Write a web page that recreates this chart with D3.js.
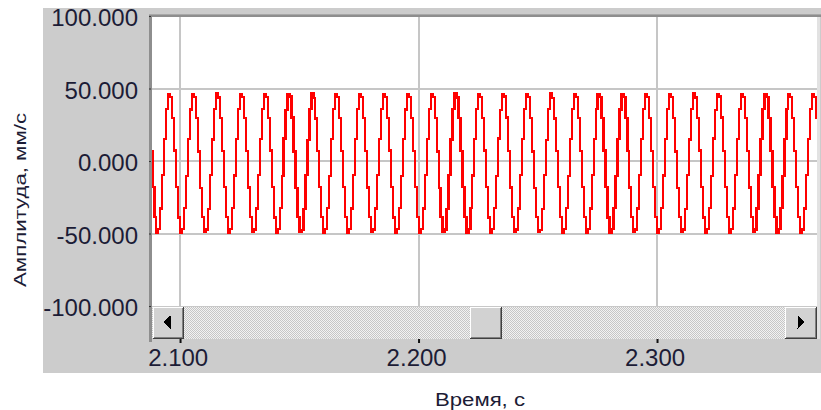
<!DOCTYPE html>
<html>
<head>
<meta charset="utf-8">
<script src="https://cdn.jsdelivr.net/npm/d3@7"></script>
<style>
  html, body { margin: 0; padding: 0; background: #ffffff; }
  svg { display: block; }
  text { font-family: "Liberation Sans", Arial, sans-serif; fill: #1c1c36; }
</style>
</head>
<body>
<svg id="chart" width="821" height="410"></svg>
<script>
// Vibration velocity record: uniformly sampled amplitude, mm/s
const sampleStart = 2.0880;   // s, time of the first sample
const sampleRate = 1200;      // samples per second
const velocity = [
  6.9, -18.1, -38.7, -49.3, -47.1, -32.7, -9.9, 15.1, 35.7, 46.3, 44.1, 29.7,
  7.2, -17.8, -38.9, -49.5, -46.8, -32.4, -10.2, 15.4, 35.5, 46.1, 44.4, 29.9,
  6.6, -18.4, -38.5, -49.1, -47.3, -32.9, -9.6, 14.8, 35.9, 46.5, 43.8, 29.4,
  7.0, -18.0, -38.8, -49.4, -47.0, -32.6, -10.0, 15.2, 35.6, 46.2, 44.2, 29.8,
  6.8, -18.3, -38.6, -49.2, -47.2, -32.8, -9.8, 15.0, 35.8, 46.4, 44.0, 29.6,
  7.3, -17.7, -39.0, -49.6, -46.7, -32.3, -10.3, 15.5, 35.4, 46.0, 44.5, 30.0,
  6.5, -18.5, -38.4, -49.0, -47.4, -33.0, -9.5, 14.7, 36.0, 46.6, 43.7, 29.3,
  7.1, -17.9, -38.8, -49.4, -46.9, -32.5, -10.1, 15.3, 35.6, 46.2, 44.3, 29.8,
  6.9, -18.2, -38.7, -49.3, -47.1, -32.7, -9.9, 15.1, 35.7, 46.3, 44.1, 29.7,
  6.7, -18.3, -38.5, -49.2, -47.3, -32.8, -9.7, 14.9, 35.9, 46.4, 43.9, 29.5,
  7.2, -17.8, -38.9, -49.5, -46.8, -32.4, -10.2, 15.4, 35.5, 46.1, 44.4, 29.9,
  6.9, -18.1, -38.7, -49.3, -47.1, -32.7, -9.9, 15.1, 35.7, 46.3, 44.1, 29.7,
  6.6, -18.4, -38.5, -49.1, -47.3, -32.9, -9.6, 14.8, 35.9, 46.5, 43.8, 29.4,
  7.0, -18.0, -38.8, -49.4, -47.0, -32.6, -10.0, 15.2, 35.6, 46.2, 44.2, 29.8,
  7.3, -17.7, -39.0, -49.6, -46.7, -32.3, -10.3, 15.5, 35.4, 46.0, 44.5, 30.0,
  6.8, -18.3, -38.6, -49.2, -47.2, -32.8, -9.8, 15.0, 35.8, 46.4, 44.0, 29.6,
  6.5, -18.5, -38.4, -49.0, -47.4, -33.0, -9.5, 14.7, 36.0, 46.6, 43.7, 29.3,
  7.1, -17.9, -38.8, -49.4, -46.9, -32.5, -10.1, 15.3, 35.6, 46.2, 44.3, 29.8,
  6.9, -18.1, -38.7, -49.3, -47.1, -32.7, -9.9, 15.1, 35.7, 46.3, 44.1, 29.7,
  7.2, -17.8, -38.9, -49.5, -46.8, -32.4, -10.2, 15.4, 35.5, 46.1, 44.4, 29.9,
  6.7, -18.3, -38.5, -49.2, -47.3, -32.8, -9.7, 14.9, 35.9, 46.4, 43.9, 29.5,
  7.0, -18.0, -38.8, -49.4, -47.0, -32.6, -10.0, 15.2, 35.6, 46.2, 44.2, 29.8,
  6.6, -18.4, -38.5, -49.1, -47.3, -32.9, -9.6, 14.8, 35.9, 46.5, 43.8, 29.4,
  7.3, -17.7, -39.0, -49.6, -46.7, -32.3, -10.3, 15.5, 35.4, 46.0, 44.5, 30.0,
  6.9, -18.1, -38.7, -49.3, -47.1, -32.7, -9.9, 15.1, 35.7, 46.3, 44.1, 29.7,
  6.8, -18.3, -38.6, -49.2, -47.2, -32.8, -9.8, 15.0, 35.8, 46.4, 44.0, 29.6,
  7.1, -17.9, -38.8, -49.4, -46.9, -32.5, -10.1, 15.3, 35.6, 46.2, 44.3, 29.8,
  6.8, -18.2, -38.6, -49.3, -47.2, -32.7, -9.8, 15.0, 35.8, 46.3, 44.0, 29.6,
  6.9
];

// Axis ranges and ticks
const timeRange = [2.0874, 2.3675];
const timeTicks = [2.1, 2.2, 2.3];
const ampRange = [-100, 100];
const ampTicks = [-100, -50, 0, 50, 100];
const ampGrid = [-50, 0, 50];

const yTitle = "Амплитуда, мм/с";
const xTitle = "Время, с";

const svg = d3.select("#chart");

// Layout of the scope window
const panel = { x: 43, y: 8, w: 778, h: 365 };
const plot = { left: 150, right: 818, top: 16, bottom: 306 };
const inner = { left: 152, right: 817, top: 17, bottom: 306 };
const bar = { top: 306, bottom: 339 };

const x = d3.scaleLinear().domain(timeRange).range([plot.left, plot.right]);
const y = d3.scaleLinear().domain(ampRange).range([plot.bottom, plot.top]);

// Grey window background
svg.append("rect")
  .attr("x", panel.x).attr("y", panel.y)
  .attr("width", panel.w).attr("height", panel.h)
  .attr("fill", "#cccccc");

// White plotting field
svg.append("rect")
  .attr("x", inner.left).attr("y", inner.top)
  .attr("width", inner.right - inner.left).attr("height", inner.bottom - inner.top)
  .attr("fill", "#ffffff");

// Grid lines
svg.append("g").selectAll("line").data(ampGrid).join("line")
  .attr("x1", inner.left).attr("x2", inner.right)
  .attr("y1", d => Math.round(y(d))).attr("y2", d => Math.round(y(d)))
  .attr("stroke", "#c6c6c6").attr("stroke-width", 2)
  .attr("shape-rendering", "crispEdges");
svg.append("g").selectAll("line").data(timeTicks).join("line")
  .attr("x1", d => Math.round(x(d))).attr("x2", d => Math.round(x(d)))
  .attr("y1", inner.top).attr("y2", inner.bottom)
  .attr("stroke", "#c6c6c6").attr("stroke-width", 2)
  .attr("shape-rendering", "crispEdges");

// Signal trace, drawn as held samples
svg.append("clipPath").attr("id", "field")
  .append("rect")
  .attr("x", inner.left).attr("y", inner.top)
  .attr("width", inner.right - inner.left).attr("height", inner.bottom - inner.top);

const samples = velocity.map((v, i) => ({ t: sampleStart + i / sampleRate, v }));
const line = d3.line().curve(d3.curveStep).x(d => x(d.t)).y(d => y(d.v));
svg.append("path")
  .datum(samples)
  .attr("clip-path", "url(#field)")
  .attr("d", line)
  .attr("fill", "none")
  .attr("stroke", "#ff0000")
  .attr("stroke-width", 2.2)
  .attr("stroke-linejoin", "miter")
  .attr("shape-rendering", "crispEdges");

// Sunken frame: dark top/left, light right
svg.append("rect").attr("x", 149).attr("y", 14).attr("width", 672).attr("height", 3).attr("fill", "#8e8e8e");
svg.append("rect").attr("x", 149).attr("y", 14).attr("width", 3).attr("height", 328).attr("fill", "#8e8e8e");
svg.append("rect").attr("x", 149).attr("y", 14).attr("width", 672).attr("height", 1).attr("fill", "#a8a8a8");
svg.append("rect").attr("x", 817).attr("y", 17).attr("width", 3).attr("height", 322).attr("fill", "#e2e2e2");

// Scroll bar track with a dithered fill
const pat = svg.append("defs").append("pattern")
  .attr("id", "dither").attr("width", 2).attr("height", 2)
  .attr("patternUnits", "userSpaceOnUse");
pat.append("rect").attr("width", 2).attr("height", 2).attr("fill", "#f2f2f2");
pat.append("rect").attr("x", 0).attr("y", 0).attr("width", 1).attr("height", 1).attr("fill", "#c6c6c6");
pat.append("rect").attr("x", 1).attr("y", 1).attr("width", 1).attr("height", 1).attr("fill", "#c6c6c6");

svg.append("rect")
  .attr("x", inner.left).attr("y", bar.top)
  .attr("width", inner.right - inner.left).attr("height", bar.bottom - bar.top)
  .attr("fill", "url(#dither)");
svg.append("rect")
  .attr("x", inner.left).attr("y", bar.top)
  .attr("width", inner.right - inner.left).attr("height", 1)
  .attr("fill", "#c8c8c8");

// Raised buttons of the scroll bar
function raisedBox(bx, by, bw, bh) {
  const g = svg.append("g").attr("shape-rendering", "crispEdges");
  g.append("rect").attr("x", bx).attr("y", by).attr("width", bw).attr("height", bh).attr("fill", "#404040");
  g.append("rect").attr("x", bx).attr("y", by).attr("width", bw - 1).attr("height", bh - 1).attr("fill", "#ffffff");
  g.append("rect").attr("x", bx + 1).attr("y", by + 1).attr("width", bw - 2).attr("height", bh - 2).attr("fill", "#808080");
  g.append("rect").attr("x", bx + 1).attr("y", by + 1).attr("width", bw - 3).attr("height", bh - 3).attr("fill", "#d2d2d2");
  return g;
}
const leftBtn = raisedBox(153, 307, 31, 32);
leftBtn.append("path").attr("d", "M163,322 L170.5,315.5 L170.5,328.5 Z").attr("fill", "#000000");
raisedBox(470, 307, 32, 32);
const rightBtn = raisedBox(785, 307, 32, 32);
rightBtn.append("path").attr("d", "M805,322 L797.5,315.5 L797.5,328.5 Z").attr("fill", "#000000");

// Axes: tick labels only, the frame carries the axis lines
const locale = d3.formatLocale({ decimal: ".", thousands: ",", grouping: [3], currency: ["", ""], minus: "-" });
const fmt = locale.format(".3f");
const yAxis = d3.axisLeft(y).tickValues(ampTicks).tickFormat(fmt).tickSize(2).tickPadding(10);
const gy = svg.append("g").attr("transform", `translate(${plot.left},0)`).call(yAxis);
gy.select(".domain").remove();
gy.selectAll(".tick line").attr("stroke", "#333").attr("transform", "translate(1,0)");
gy.selectAll(".tick text")
  .attr("font-size", 24).attr("dy", "0.4em")
  .style("font-family", "'Liberation Sans', Arial, sans-serif").attr("fill", "#1c1c36");

const xAxis = d3.axisBottom(x).tickValues(timeTicks).tickFormat(fmt).tickSize(4).tickPadding(6);
const gx = svg.append("g").attr("transform", `translate(0,${bar.bottom})`).call(xAxis);
gx.select(".domain").remove();
gx.selectAll(".tick line").attr("stroke", "#111").attr("stroke-width", 2);
gx.selectAll(".tick text")
  .attr("font-size", 24).attr("dx", "-0.1em")
  .style("font-family", "'Liberation Sans', Arial, sans-serif").attr("fill", "#1c1c36");

// Axis titles
svg.append("text")
  .attr("transform", "translate(26,200) rotate(-90)")
  .attr("text-anchor", "middle")
  .attr("font-size", 16)
  .attr("textLength", 174)
  .attr("lengthAdjust", "spacingAndGlyphs")
  .text(yTitle);

svg.append("text")
  .attr("x", 480).attr("y", 406)
  .attr("text-anchor", "middle")
  .attr("font-size", 18)
  .attr("textLength", 90)
  .attr("lengthAdjust", "spacingAndGlyphs")
  .text(xTitle);
</script>
</body>
</html>
